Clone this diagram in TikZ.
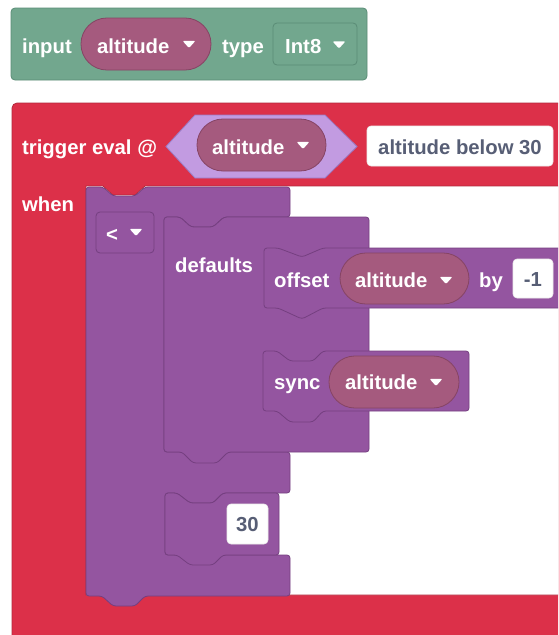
\documentclass[tikz,border=0pt]{standalone}
\usepackage{fontspec}
\setmainfont{Liberation Sans}
\definecolor{grn}{HTML}{72A78E}
\definecolor{grnb}{HTML}{5A8C76}
\definecolor{pil}{HTML}{A55A7E}
\definecolor{pilb}{HTML}{864464}
\definecolor{blkred}{HTML}{DC3049}
\definecolor{blkredb}{HTML}{B2283C}
\definecolor{prp}{HTML}{9455A0}
\definecolor{prpb}{HTML}{753F80}
\definecolor{hexf}{HTML}{C29BE1}
\definecolor{hexb}{HTML}{9A7BC5}
\definecolor{gtx}{HTML}{575E75}
\begin{document}
\begin{tikzpicture}[x=1pt,y=-1pt,
  lbl/.style={anchor=base west, inner sep=0pt, text=white, font=\bfseries\fontsize{20.3}{21}\selectfont},
  glbl/.style={anchor=base, inner sep=0pt, text=gtx, font=\bfseries\fontsize{20.3}{21}\selectfont},
  pillbox/.style={draw=pilb, fill=pil, line width=0.8pt, rounded corners=25.9pt},
  prpblock/.style={draw=prpb, fill=prp, line width=0.8pt, rounded corners=3pt},
  whitebox/.style={draw=white!85!gray, fill=white, line width=0.6pt, rounded corners=4pt},
  ddarr/.pic={\fill[white, rounded corners=1.2pt] (-6.5,-3.2) -- (6.5,-3.2) -- (0,4) -- cycle;}]
\clip (0,0) rectangle (558,635);
\fill[white] (0,0) rectangle (558,635);

% ---------- input block ----------
\draw[draw=grnb, fill=grn, line width=0.8pt, rounded corners=4pt] (11,8) rectangle (367,80);
\node[lbl] (in) at (22,53) {input};
\draw[pillbox] (81,18) rectangle (211,70);
\node[lbl] (a1) at (97,53) {altitude};
\pic at (189,44) {ddarr};
\node[lbl] (ty) at (222,53) {type};
\draw[draw=grnb, line width=0.8pt, rounded corners=4pt] (273,23) rectangle (357,65);
\node[lbl] (i8) at (285,53) {Int8};
\pic at (339,44.5) {ddarr};

% ---------- trigger block ----------
\draw[draw=blkredb, fill=blkred, line width=0.8pt, rounded corners=5pt] (12,103) rectangle (640,700);
\draw[draw=blkredb, fill=white, line width=0.8pt] (86,186) -- (103,186) -- (113,195) -- (135,195) -- (145,186) -- (640,186) -- (640,595) -- (86,595) -- cycle;
\node[lbl] (tr) at (22,154) {trigger eval @};
\node[lbl] (wh) at (22,211) {when};
\draw[draw=hexb, fill=hexf, line width=0.8pt] (166,146.5) -- (195,115) -- (325,115) -- (357,146.5) -- (325,178) -- (195,178) -- cycle;
\draw[pillbox] (197,119) rectangle (326,171);
\node[lbl] (a2) at (212,154) {altitude};
\pic at (303,145) {ddarr};
\draw[whitebox] (367,126) rectangle (553,166);
\node[glbl] (nm) at (460,154) {altitude below 30};

% ---------- comparison block ----------
\draw[prpblock] (86,187) -- (103,187) -- (113,196) -- (135,196) -- (145,187) -- (290,187) -- (290,217) -- (224,217) -- (213,227) -- (191,227) -- (180,217) -- (164,217) -- (164,452) -- (290,452) -- (290,493) -- (223,493) -- (213,503) -- (190,503) -- (177,493) -- (165,493) -- (165,555) -- (290,555) -- (290,596) -- (145,596) -- (135,606) -- (113,606) -- (102,596) -- (86,596) -- cycle;
\draw[draw=prpb, line width=0.8pt, rounded corners=4pt] (96,212) rectangle (154,253);
\node[lbl] (lt) at (106,241) {<};
\pic at (136,232) {ddarr};

% ---------- defaults block ----------
\draw[prpblock] (164,217) -- (180,217) -- (191,227) -- (213,227) -- (224,217) -- (369,217) -- (369,452) -- (228,452) -- (217,463) -- (193,463) -- (182,452) -- (164,452) -- cycle;
\node[lbl] (df) at (175,272) {defaults};

% ---------- offset block ----------
\draw[prpblock] (264,248) -- (278,248) -- (302,257) -- (323,248) -- (640,248) -- (640,308) -- (323,308) -- (302,319) -- (278,308) -- (264,308) -- cycle;
\node[lbl] (of) at (274,287) {offset};
\draw[pillbox] (340,253) rectangle (469,304);
\node[lbl] (a3) at (355,287) {altitude};
\pic at (446,280) {ddarr};
\node[lbl] (by) at (479,287) {by};
\draw[whitebox] (513,259) rectangle (553,298);
\node[glbl] (m1) at (533,286.5) {-1};

% ---------- sync block ----------
\draw[prpblock] (263,351) -- (277,351) -- (290,361) -- (313,361) -- (323,351) -- (469,351) -- (469,411) -- (323,411) -- (313,422) -- (290,422) -- (277,411) -- (263,411) -- cycle;
\node[lbl] (sy) at (274,389) {sync};
\draw[pillbox] (329,356) rectangle (459,408);
\node[lbl] (a4) at (345,389) {altitude};
\pic at (436,382) {ddarr};

% ---------- number block ----------
\draw[prpblock] (165,493) -- (177,493) -- (190,503) -- (213,503) -- (223,493) -- (279,493) -- (279,555) -- (223,555) -- (213,565) -- (190,565) -- (177,555) -- (165,555) -- cycle;
\draw[whitebox] (227,504) rectangle (268,544);
\node[glbl] (n30) at (247.5,531.5) {30};
\end{tikzpicture}
\end{document}
